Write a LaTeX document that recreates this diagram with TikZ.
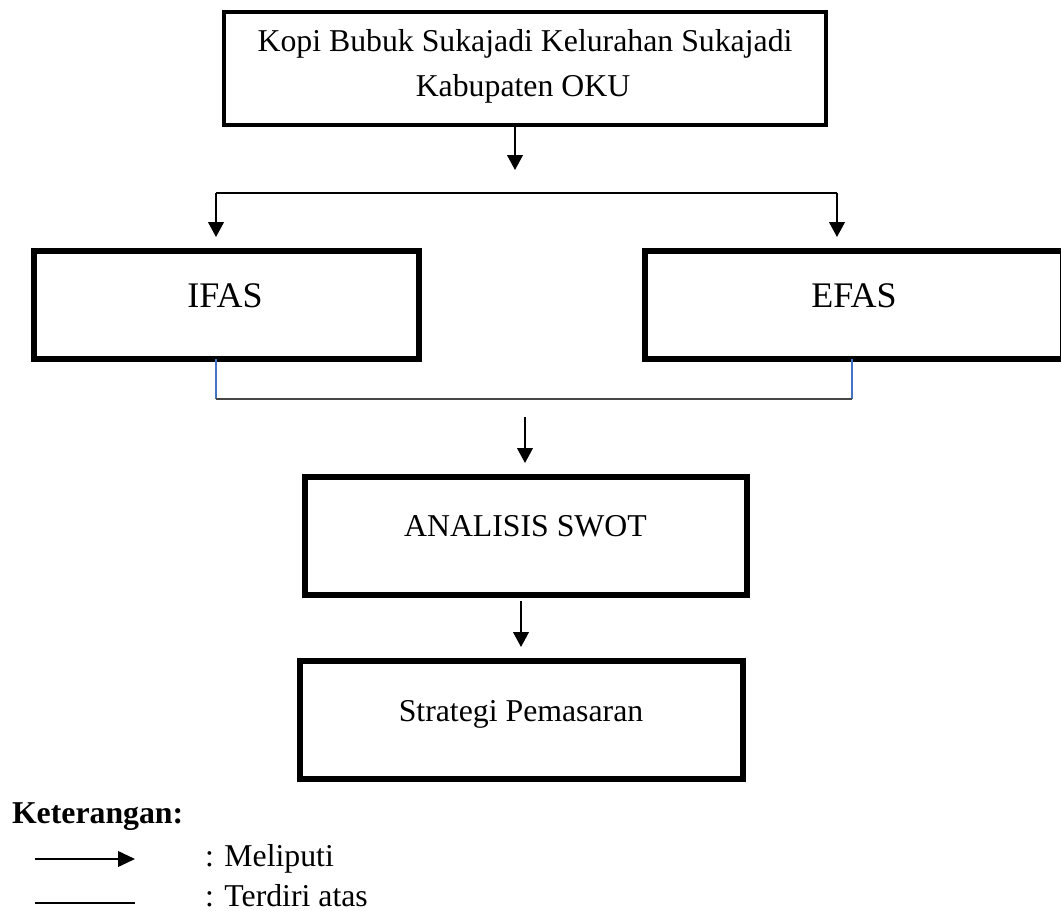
\documentclass[tikz,border=0pt]{standalone}
\usepackage{fontspec}
\setmainfont{Liberation Serif}
\usetikzlibrary{arrows.meta}
\definecolor{blueline}{RGB}{68,114,196}
\definecolor{grayline}{RGB}{70,70,70}
\tikzset{
  box/.style={draw=black, fill=white, inner sep=0pt, outer sep=0pt},
  txt/.style={inner sep=0pt, outer sep=0pt, font=\fontsize{22.6pt}{27pt}\selectfont},
  bigtxt/.style={inner sep=0pt, outer sep=0pt, font=\fontsize{25.6pt}{30pt}\selectfont},
  arr/.style={line width=1.4pt, -{Triangle[width=11pt,length=10.5pt]}},
  plain/.style={line width=1.6pt},
  bluev/.style={draw=blueline, line width=1pt},
}
\begin{document}
\begin{tikzpicture}[x=0.025cm,y=-0.025cm]
\clip (0,0) rectangle (1061,911);
\fill[white] (0,0) rectangle (1061,911);
% boxes
\node[box, line width=2.85pt, minimum width=15.05cm, minimum height=2.825cm] (top) at (525,68.5) {};
\node[box, line width=4.6pt, minimum width=9.625cm, minimum height=2.7cm] (ifas) at (226.5,305) {};
\node[box, line width=4.6pt, minimum width=10.45cm, minimum height=2.7cm] (efas) at (854,305) {};
\node[box, line width=4.6pt, minimum width=11.05cm, minimum height=2.95cm] (swot) at (526,536) {};
\node[box, line width=4.6pt, minimum width=11.075cm, minimum height=2.95cm] (strat) at (521.5,720) {};
% texts
\node[txt, anchor=base] (t1) at (525,52) {Kopi Bubuk Sukajadi Kelurahan Sukajadi};
\node[txt, anchor=base] (t2) at (523,97) {Kabupaten OKU};
\node[bigtxt, anchor=base] (tifas) at (225,308) {IFAS};
\node[bigtxt, anchor=base] (tefas) at (854,308) {EFAS};
\node[txt, anchor=base] (tswot) at (525.5,537) {ANALISIS SWOT};
\node[txt, anchor=base] (tstrat) at (521,722) {Strategi Pemasaran};
% coordinates
\coordinate (a1s) at (515,127);
\coordinate (a1e) at (515,170);
\coordinate (bl) at (216,193);
\coordinate (br) at (837,193);
\coordinate (ble) at (216,237);
\coordinate (bre) at (837,237);
\coordinate (jl) at (216,399);
\coordinate (jr) at (852,399);
\coordinate (a2s) at (525,417);
\coordinate (a2e) at (525,463);
\coordinate (a3s) at (521,601);
\coordinate (a3e) at (521,647);
% connectors
\draw[arr] (a1s) -- (a1e);
\draw[plain] (bl) -- (br);
\draw[arr] (bl) -- (ble);
\draw[arr] (br) -- (bre);
\draw[bluev] (ifas.south -| jl) -- (jl);
\draw[bluev] (efas.south -| jr) -- (jr);
\draw[draw=grayline, line width=1.3pt] (jl) -- (jr);
\draw[arr] (a2s) -- (a2e);
\draw[arr] (a3s) -- (a3e);
% legend
\node[txt, anchor=base west, font=\fontsize{22.6pt}{27pt}\selectfont\bfseries] (ket) at (12,823) {Keterangan:};
\coordinate (l1s) at (35,859);
\coordinate (l1e) at (135,859);
\coordinate (l2s) at (35,903);
\coordinate (l2e) at (135,903);
\draw[line width=1.5pt, -{Triangle[width=11pt,length=12pt]}] (l1s) -- (l1e);
\draw[line width=1.4pt] (l2s) -- (l2e);
\node[txt, anchor=base west] (m1) at (205,866) {: Meliputi};
\node[txt, anchor=base west] (m2) at (205,906) {: Terdiri atas};
\end{tikzpicture}
\end{document}
